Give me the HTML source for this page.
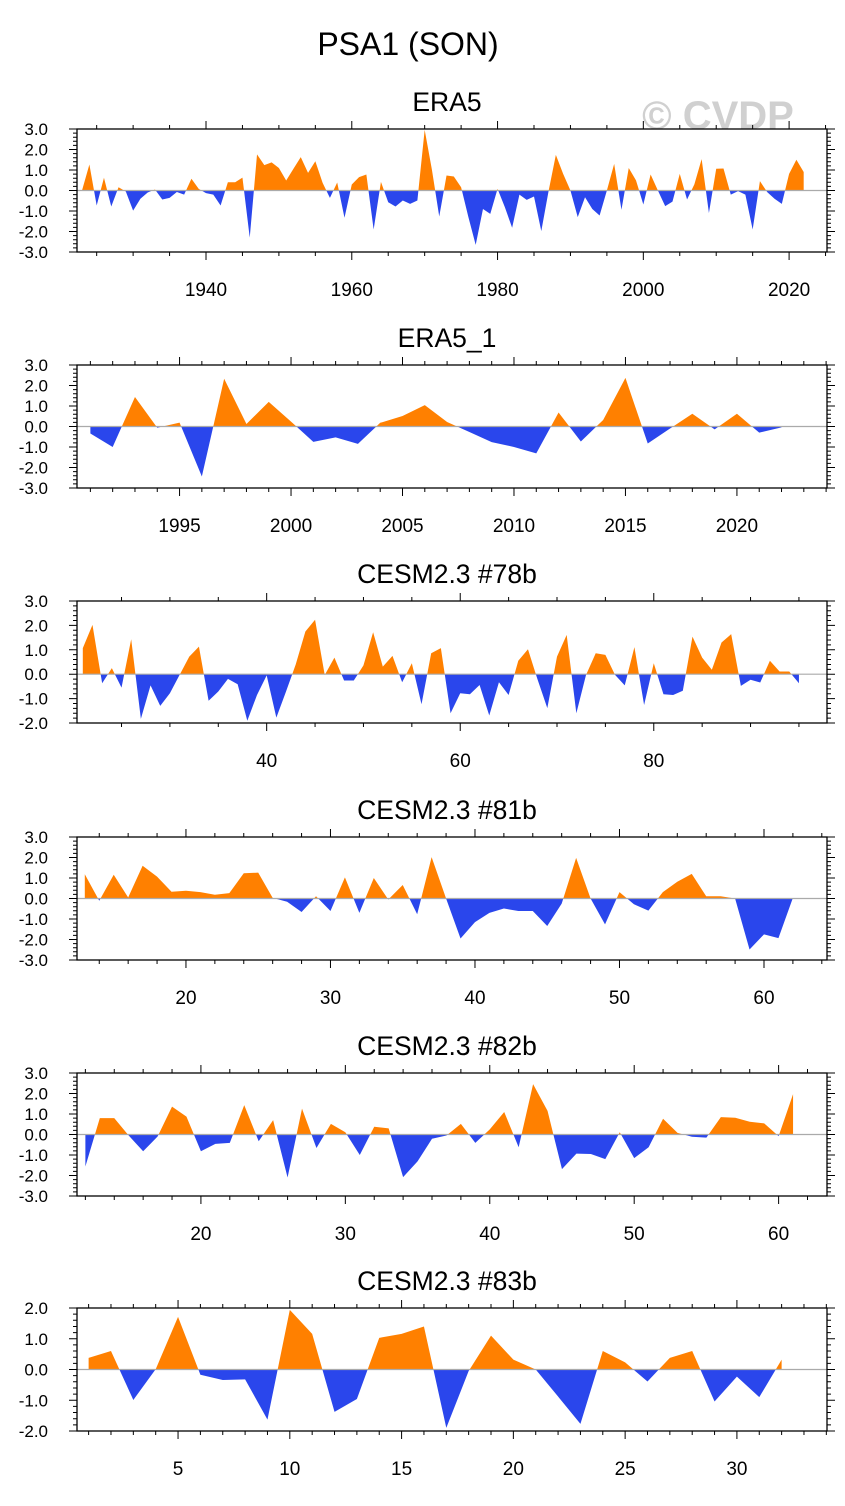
<!DOCTYPE html>
<html><head><meta charset="utf-8">
<style>
html,body{margin:0;padding:0;background:#fff;}
svg{display:block;font-family:"Liberation Sans",Arial,sans-serif;}
</style></head>
<body>
<svg id="chart" width="845" height="1506" viewBox="0 0 845 1506" xmlns="http://www.w3.org/2000/svg">
<text x="408" y="55" font-size="32" text-anchor="middle" fill="#000">PSA1 (SON)</text>
<text x="718" y="129" font-size="40" font-weight="bold" text-anchor="middle" fill="#d0d0d0">© CVDP</text>
</svg>
<script>
const era5Start = 1923;
const era5Values = [0.02,1.27,-0.73,0.62,-0.78,0.16,-0.05,-0.98,-0.4,-0.1,0.05,-0.44,-0.36,-0.07,-0.2,0.57,0.08,-0.13,-0.2,-0.73,0.4,0.4,0.63,-2.3,1.76,1.24,1.37,1.1,0.49,1.06,1.63,0.86,1.43,0.37,-0.36,0.39,-1.33,0.29,0.65,0.78,-1.9,0.42,-0.57,-0.78,-0.49,-0.65,-0.49,2.96,1.0,-1.27,0.73,0.68,0.16,-1.3,-2.65,-0.9,-1.14,0.08,-0.81,-1.82,-0.2,-0.46,-0.29,-1.98,-0.03,1.74,0.81,0.0,-1.3,-0.33,-0.9,-1.22,0.0,1.3,-0.94,1.1,0.49,-0.68,0.78,0.0,-0.76,-0.54,0.81,-0.44,0.3,1.53,-1.1,1.06,1.07,-0.2,-0.03,-0.2,-1.9,0.46,-0.08,-0.4,-0.65,0.81,1.5,0.9];
const era51Start = 1991;
const era51Values = [-0.34,-1.0,1.44,-0.06,0.19,-2.44,2.33,0.12,1.2,0.24,-0.75,-0.53,-0.85,0.18,0.51,1.04,0.22,-0.27,-0.76,-1.0,-1.31,0.68,-0.73,0.32,2.37,-0.83,-0.1,0.62,-0.14,0.62,-0.3,-0.04];
const cesm78Start = 21;
const cesm78Values = [1.07,2.02,-0.37,0.25,-0.55,1.43,-1.83,-0.46,-1.3,-0.78,-0.03,0.72,1.13,-1.09,-0.71,-0.19,-0.41,-1.91,-0.85,-0.05,-1.78,-0.71,0.4,1.75,2.23,-0.03,0.68,-0.26,-0.26,0.36,1.72,0.31,0.75,-0.33,0.45,-1.23,0.86,1.07,-1.6,-0.78,-0.82,-0.44,-1.69,-0.33,-0.85,0.55,1.02,-0.23,-1.39,0.72,1.61,-1.6,-0.03,0.86,0.79,-0.03,-0.46,1.11,-1.26,0.45,-0.82,-0.85,-0.68,1.54,0.68,0.18,1.3,1.64,-0.48,-0.23,-0.34,0.55,0.11,0.11,-0.37];
const cesm81Start = 13;
const cesm81Values = [1.18,-0.11,1.16,0.05,1.6,1.07,0.33,0.38,0.31,0.18,0.26,1.23,1.26,0.03,-0.16,-0.66,0.11,-0.61,1.03,-0.7,1.0,-0.05,0.66,-0.77,2.02,0.0,-1.95,-1.15,-0.7,-0.49,-0.61,-0.61,-1.34,-0.25,1.98,0.0,-1.26,0.31,-0.28,-0.59,0.31,0.82,1.2,0.11,0.11,0.0,-2.49,-1.75,-1.93,0.03];
const cesm82Start = 12;
const cesm82Values = [-1.56,0.8,0.8,-0.05,-0.82,-0.1,1.36,0.87,-0.82,-0.46,-0.41,1.43,-0.33,0.7,-2.1,1.26,-0.66,0.52,0.11,-1.0,0.38,0.3,-2.08,-1.31,-0.21,-0.05,0.52,-0.41,0.25,1.1,-0.62,2.46,1.15,-1.69,-0.93,-0.95,-1.2,0.11,-1.15,-0.62,0.77,0.08,-0.11,-0.15,0.85,0.82,0.62,0.54,-0.08,1.97];
const cesm83Start = 1;
const cesm83Values = [0.38,0.6,-0.99,0.01,1.71,-0.17,-0.34,-0.32,-1.63,1.94,1.16,-1.38,-0.96,1.03,1.16,1.4,-1.9,-0.05,1.1,0.32,0.0,-0.88,-1.77,0.6,0.23,-0.39,0.38,0.6,-1.04,-0.23,-0.9,0.32];

const panelTitles = ["ERA5","ERA5_1","CESM2.3 #78b","CESM2.3 #81b","CESM2.3 #82b","CESM2.3 #83b"];
const yLabels3 = ["3.0","2.0","1.0","0.0","-1.0","-2.0","-3.0"];
const yLabels32 = ["3.0","2.0","1.0","0.0","-1.0","-2.0"];
const yLabels2 = ["2.0","1.0","0.0","-1.0","-2.0"];

const panels = [
 {name:"era5",start:era5Start,vals:era5Values,top:129,bot:252,ymin:-3,ymax:3,yl:yLabels3,xmin:1922.3,xmax:2025.2,maj:20,min:5,x0:1940,xend:2020},
 {name:"era5-1",start:era51Start,vals:era51Values,top:365,bot:488,ymin:-3,ymax:3,yl:yLabels3,xmin:1990.4,xmax:2024.04,maj:5,min:1,x0:1995,xend:2020},
 {name:"cesm-78b",start:cesm78Start,vals:cesm78Values,top:601,bot:723,ymin:-2,ymax:3,yl:yLabels32,xmin:20.4,xmax:97.9,maj:20,min:5,x0:40,xend:80},
 {name:"cesm-81b",start:cesm81Start,vals:cesm81Values,top:837,bot:960,ymin:-3,ymax:3,yl:yLabels3,xmin:12.46,xmax:64.36,maj:10,min:2,x0:20,xend:60},
 {name:"cesm-82b",start:cesm82Start,vals:cesm82Values,top:1073,bot:1196,ymin:-3,ymax:3,yl:yLabels3,xmin:11.42,xmax:63.35,maj:10,min:2,x0:20,xend:60},
 {name:"cesm-83b",start:cesm83Start,vals:cesm83Values,top:1308,bot:1431,ymin:-2,ymax:2,yl:yLabels2,xmin:0.48,xmax:34.03,maj:5,min:1,x0:5,xend:30}
];
const L=77,R=827;
const NS="http://www.w3.org/2000/svg";
const svg=document.getElementById('chart');
function mk(tag,attrs,parent){const e=document.createElementNS(NS,tag);for(const k in attrs)e.setAttribute(k,attrs[k]);(parent||svg).appendChild(e);return e;}

panels.forEach((p,pi)=>{
  const g=mk('g',{});
  
  
  const xs=v=>L+(v-p.xmin)/(p.xmax-p.xmin)*(R-L);
  const ys=v=>p.bot-(v-p.ymin)/(p.ymax-p.ymin)*(p.bot-p.top);
  const t=mk('text',{x:447,y:p.top-18,'font-size':26.5,'text-anchor':'middle',fill:'#000'},g);
  t.textContent=panelTitles[pi];
  
  
  const pts=p.vals.map((v,i)=>[xs(p.start+i),v]);
  const y0=ys(0);
  function poly(sign){
    let d='';
    for(let i=0;i<pts.length;i++){
      const [x,v]=pts[i];
      const cv=sign>0?Math.max(v,0):Math.min(v,0);
      if(i>0){const [px,pv]=pts[i-1];
        if((pv>0&&v<0)||(pv<0&&v>0)){const xc=px+(x-px)*(pv/(pv-v));d+=' L'+xc.toFixed(2)+','+y0;}}
      d+=(d===''?'M'+x.toFixed(2)+','+y0+' L':' L')+x.toFixed(2)+','+ys(cv).toFixed(2);
    }
    d+=' L'+pts[pts.length-1][0].toFixed(2)+','+y0+' Z';
    return d;
  }
  const pos=mk('path',{d:poly(1),fill:'#ff8000',stroke:'none'},g);
  
  
  const neg=mk('path',{d:poly(-1),fill:'#2a46ec',stroke:'none'},g);
  
  
  const zl=mk('line',{x1:L,x2:R,y1:y0,y2:y0,stroke:'#aaa','stroke-width':1.2},g);
  
  
  const box=mk('rect',{x:L,y:p.top,width:R-L,height:p.bot-p.top,fill:'none',stroke:'#000','stroke-width':1.3},g);
  
  
  let tk='';
  for(let k=Math.round(p.ymin*5);k<=Math.round(p.ymax*5);k++){
    const v=k/5,y=ys(v),major=k%5===0,len=major?8:4;
    tk+='M'+(L-len)+','+y+'H'+L+'M'+R+','+y+'H'+(R+len);
  }
  const first=Math.ceil(p.xmin/p.min)*p.min;
  for(let v=first;v<=p.xmax;v+=p.min){
    const x=xs(v),major=Math.abs(((v-p.x0)%p.maj+p.maj)%p.maj)<1e-6,len=major?8:4;
    tk+='M'+x+','+(p.top-len)+'V'+p.top+'M'+x+','+p.bot+'V'+(p.bot+len);
  }
  const ticks=mk('path',{d:tk,stroke:'#000','stroke-width':1,fill:'none'},g);
  
  
  p.yl.forEach((s,i)=>{
    const y=ys(p.ymax-i);
    const tl=mk('text',{x:48,y:y+6,'font-size':17,'text-anchor':'end',fill:'#000'},g);
    tl.textContent=s;
    
    
  });
  for(let v=p.x0;v<=p.xend;v+=p.maj){
    const xl=mk('text',{x:xs(v),y:p.bot+44,'font-size':19,'text-anchor':'middle',fill:'#000'},g);
    xl.textContent=String(v);
    
    
  }
});
</script>
</body></html>
